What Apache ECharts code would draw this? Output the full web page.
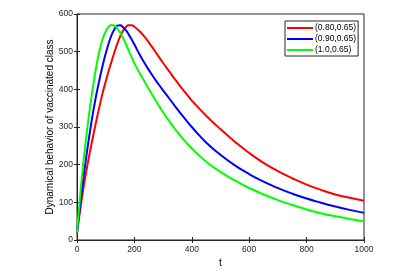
<!DOCTYPE html>
<html>
<head>
<meta charset="utf-8">
<script src="https://cdn.jsdelivr.net/npm/echarts@6/dist/echarts.min.js"></script>
<style>
html,body{margin:0;padding:0;background:#fff;}
#chart{width:419px;height:273px;}
</style>
</head>
<body>
<div id="chart"></div>
<script>
var tValues = [0,10,20,30,40,50,60,70,80,90,100,110,120,130,140,150,160,170,180,190,200,220,240,260,280,300,320,340,360,380,400,450,500,550,600,650,700,750,800,850,900,950,1000];
var seriesNames = ['(0.80,0.65)', '(0.90,0.65)', '(1.0,0.65)'];
var seriesColors = ['#ff0000', '#0000ff', '#00ff00'];
var red =   [18,74,126,172,214,253,290,326,360,392,421,448,473,497,520,540,555,565,570,570,566,553,535,514,492,470,449,428,408,389,370,330,294,261,231,205,183,164,147,133,121,112,104];
var blue =  [20,87,150,208,262,311,356,396,432,465,495,521,543,559,569,570,565,557,546,533,519,490,464,440,418,397,377,357,337,318,300,259,226,198,175,155,138,123,110,99,89,80,72];
var green = [20,110,190,260,322,378,428,472,508,535,554,566,571,569,562,551,537,521,503,486,469,441,414,388,363,339,317,296,277,259,243,208,181,158,138,121,106,93,81,71,63,56,50];
var xTicks = {min:0, max:1000, interval:200};
var yTicks = {min:0, max:600, interval:100};

function pairs(v){ return tValues.map(function(t,i){ return [t, v[i]]; }); }

var axisColor = '#262626';
var font = 'Liberation Sans, Arial, sans-serif';
var allSeries = [red, blue, green].map(function(v, i){
  return {name:seriesNames[i], type:'line', data:pairs(v), smooth:true, showSymbol:false,
          lineStyle:{color:seriesColors[i], width:2}, itemStyle:{color:seriesColors[i]}};
});
var chart = echarts.init(document.getElementById('chart'), null, {renderer:'canvas'});
chart.setOption({
  animation:false,
  backgroundColor:'#fff',
  grid:{left:77, right:55, top:14, bottom:32, show:true, borderColor:axisColor, borderWidth:1, backgroundColor:'#fff'},
  legend:{
    orient:'vertical', left:285, top:21,
    padding:[2,2,1,2], itemGap:1, itemWidth:26, itemHeight:2,
    backgroundColor:'#fff', borderColor:axisColor, borderWidth:1, borderRadius:0,
    icon:'rect',
    textStyle:{fontFamily:font, fontSize:8.5, color:'#000', padding:[0,0,0,-3], lineHeight:10},
    data:seriesNames.map(function(n,i){ return {name:n, icon:'rect', itemStyle:{color:seriesColors[i], borderWidth:0}}; })
  },
  xAxis:[{
    type:'value', min:xTicks.min, max:xTicks.max, interval:xTicks.interval,
    name:'t', nameLocation:'middle', nameGap:18, nameMoveOverlap:false,
    nameTextStyle:{fontFamily:font, fontSize:10, color:'#000'},
    axisLine:{show:true, lineStyle:{color:axisColor, width:1}},
    axisTick:{show:true, inside:true, length:3, lineStyle:{color:axisColor}},
    axisLabel:{fontFamily:font, fontSize:8.5, color:axisColor, margin:5, formatter:function(v){return String(v);}},
    splitLine:{show:false}
  },{
    type:'value', position:'top', min:xTicks.min, max:xTicks.max, interval:xTicks.interval,
    axisLine:{show:true, lineStyle:{color:axisColor, width:1}},
    axisTick:{show:true, inside:true, length:3, lineStyle:{color:axisColor}},
    axisLabel:{show:false}, splitLine:{show:false}
  }],
  yAxis:[{
    type:'value', min:yTicks.min, max:yTicks.max, interval:yTicks.interval,
    name:'Dynamical behavior of vaccinated class', nameLocation:'middle', nameGap:22, nameMoveOverlap:false,
    nameTextStyle:{fontFamily:font, fontSize:10, color:'#000'},
    axisLine:{show:true, lineStyle:{color:axisColor, width:1}},
    axisTick:{show:true, inside:true, length:3, lineStyle:{color:axisColor}},
    axisLabel:{fontFamily:font, fontSize:8.5, color:axisColor, margin:4},
    splitLine:{show:false}
  },{
    type:'value', position:'right', min:yTicks.min, max:yTicks.max, interval:yTicks.interval,
    axisLine:{show:true, lineStyle:{color:axisColor, width:1}},
    axisTick:{show:true, inside:true, length:3, lineStyle:{color:axisColor}},
    axisLabel:{show:false}, splitLine:{show:false}
  }],
  series:allSeries
});
</script>
</body>
</html>
